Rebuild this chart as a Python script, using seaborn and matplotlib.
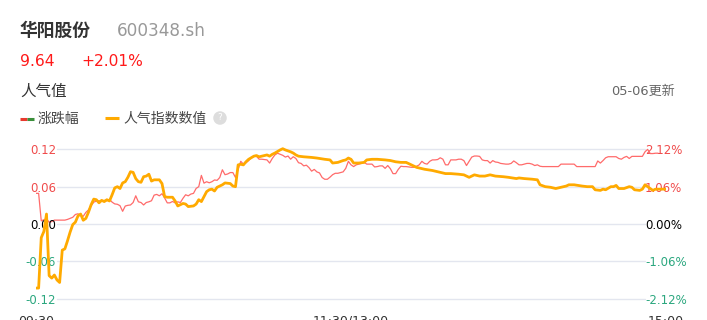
import matplotlib
matplotlib.use("Agg")
import matplotlib.pyplot as plt
import seaborn as sns
from matplotlib.lines import Line2D

# ---------------- data ----------------
stock_name = "华阳股份"
stock_code = "600348.sh"
price_text = "9.64"
change_text = "+2.01%"
section_title = "人气值"
update_label = "05-06更新"
legend_labels = ["涨跌幅", "人气指数数值"]

x_tick_pos = [0, 120, 240]
x_tick_labels = ["09:30", "11:30/13:00", "15:00"]
left_ticks = [-0.12, -0.06, 0.0, 0.06, 0.12]
left_tick_labels = ["-0.12", "-0.06", "0.00", "0.06", "0.12"]
right_ticks = [-2.12, -1.06, 0.0, 1.06, 2.12]
right_tick_labels = ["-2.12%", "-1.06%", "0.00%", "1.06%", "2.12%"]

# popularity index (left axis), minute index of trading day
pop_minute = [0, 1, 2, 3, 4, 5, 6, 7, 8, 9, 10, 11, 12, 13, 14, 15, 16, 17, 18, 19,
              20, 21, 22, 23, 24, 25, 26, 27, 28, 29, 30, 31, 32, 33, 34, 35, 36, 37, 38, 39,
              40, 41, 42, 43, 44, 45, 46, 47, 48, 49, 50, 52, 53, 54, 55, 56, 57, 58, 60, 61,
              62, 63, 64, 65, 66, 67, 68, 69, 71, 72, 74, 75, 76, 77, 78, 79, 80, 81, 83, 84,
              85, 86, 88, 89, 90, 91, 93, 94, 95, 97, 98, 99, 100, 102, 105, 107, 110, 112, 113, 115,
              117, 118, 119, 120, 121, 123, 125, 126, 128, 130, 133, 135, 137, 139, 141, 143, 145, 148, 151, 153,
              156, 158, 161, 163, 165, 166, 167, 169, 171, 173, 175, 178, 180, 183, 184, 186, 189, 191, 192, 194,
              196, 198, 200, 202, 203, 205, 208, 210, 212, 213, 215, 216, 217, 219, 220, 221, 222, 224, 226, 227,
              228, 230, 231, 232, 234, 235, 236, 238, 240]
pop_value = [-0.103, -0.103, -0.022, -0.012, 0.016, -0.083, -0.087, -0.082, -0.090, -0.094,
             -0.042, -0.040, -0.027, -0.013, -0.001, 0.003, 0.013, 0.016, 0.006, 0.009,
             0.019, 0.031, 0.040, 0.039, 0.034, 0.038, 0.036, 0.039, 0.037, 0.047,
             0.058, 0.060, 0.057, 0.066, 0.068, 0.075, 0.084, 0.083, 0.073, 0.068,
             0.067, 0.076, 0.077, 0.080, 0.069, 0.071, 0.071, 0.071, 0.065, 0.044,
             0.043, 0.043, 0.037, 0.029, 0.031, 0.033, 0.032, 0.028, 0.029, 0.032,
             0.039, 0.036, 0.044, 0.052, 0.055, 0.056, 0.053, 0.059, 0.063, 0.066,
             0.065, 0.061, 0.060, 0.095, 0.096, 0.095, 0.100, 0.104, 0.109, 0.110,
             0.108, 0.109, 0.111, 0.109, 0.112, 0.114, 0.119, 0.121, 0.119, 0.116,
             0.114, 0.111, 0.109, 0.108, 0.107, 0.106, 0.104, 0.103, 0.098, 0.099,
             0.102, 0.103, 0.106, 0.104, 0.098, 0.098, 0.099, 0.103, 0.104, 0.104,
             0.103, 0.102, 0.100, 0.099, 0.099, 0.095, 0.091, 0.088, 0.086, 0.084,
             0.081, 0.081, 0.080, 0.079, 0.075, 0.077, 0.079, 0.077, 0.077, 0.079,
             0.077, 0.076, 0.075, 0.073, 0.074, 0.073, 0.072, 0.071, 0.063, 0.060,
             0.059, 0.057, 0.059, 0.061, 0.063, 0.063, 0.061, 0.060, 0.060, 0.055,
             0.054, 0.056, 0.055, 0.060, 0.060, 0.062, 0.057, 0.057, 0.060, 0.059,
             0.055, 0.054, 0.056, 0.063, 0.057, 0.054, 0.056, 0.056, 0.056]

# price change in % (right axis), one value per trading minute
chg_pct = [0.87, 0.87, 0.09, 0.12, 0.15, 0.05, 0.07, 0.11, 0.11, 0.11,
           0.11, 0.11, 0.13, 0.16, 0.19, 0.27, 0.29, 0.24, 0.22, 0.33,
           0.40, 0.52, 0.62, 0.65, 0.66, 0.64, 0.67, 0.66, 0.70, 0.62,
           0.57, 0.56, 0.52, 0.36, 0.51, 0.53, 0.54, 0.61, 0.80, 0.63,
           0.61, 0.54, 0.61, 0.63, 0.66, 0.82, 0.84, 0.80, 0.86, 0.74,
           0.60, 0.60, 0.64, 0.60, 0.63, 0.61, 0.73, 0.83, 0.80, 0.85,
           0.87, 1.01, 1.06, 1.38, 1.16, 1.20, 1.17, 1.20, 1.25, 1.24,
           1.32, 1.54, 1.40, 1.42, 1.46, 1.46, 1.32, 1.55, 1.78, 1.70,
           1.74, 1.80, 1.88, 1.93, 1.92, 1.84, 1.84, 1.83, 1.82, 1.73,
           1.86, 1.96, 2.01, 1.98, 1.95, 1.90, 1.93, 1.84, 1.91, 1.86,
           1.74, 1.72, 1.65, 1.67, 1.60, 1.50, 1.55, 1.48, 1.45, 1.32,
           1.27, 1.27, 1.33, 1.40, 1.44, 1.44, 1.46, 1.48, 1.58, 1.78,
           1.68, 1.63, 1.68, 1.70, 1.72, 1.75, 1.70, 1.70, 1.70, 1.62,
           1.63, 1.65, 1.65, 1.58, 1.66, 1.57, 1.43, 1.43, 1.55, 1.64,
           1.63, 1.63, 1.62, 1.61, 1.61, 1.64, 1.68, 1.78, 1.72, 1.70,
           1.78, 1.82, 1.82, 1.83, 1.88, 1.84, 1.68, 1.68, 1.82, 1.82,
           1.82, 1.84, 1.84, 1.80, 1.66, 1.78, 1.90, 1.93, 1.93, 1.92,
           1.82, 1.80, 1.80, 1.73, 1.80, 1.76, 1.75, 1.72, 1.71, 1.70,
           1.70, 1.72, 1.79, 1.74, 1.68, 1.68, 1.70, 1.72, 1.72, 1.70,
           1.66, 1.68, 1.64, 1.63, 1.63, 1.63, 1.63, 1.63, 1.63, 1.63,
           1.70, 1.70, 1.70, 1.70, 1.70, 1.70, 1.63, 1.63, 1.63, 1.63,
           1.63, 1.63, 1.63, 1.63, 1.79, 1.73, 1.80, 1.88, 1.91, 1.91,
           1.91, 1.91, 1.86, 1.84, 1.89, 1.92, 1.86, 1.92, 1.92, 1.92,
           1.92, 1.92, 2.05, 2.12, 2.00, 2.00, 2.01, 2.01]
chg_minute = list(range(len(chg_pct)))

# ---------------- style ----------------
sns.set_style("white")
plt.rcParams['font.family'] = ['DejaVu Sans', 'Noto Sans CJK SC']

RED = "#ff6b6b"
ORANGE = "#ffaa00"
TICK_RED = "#f04b4b"
TICK_GREEN = "#2ba77f"
GRID = "#e3e6ef"

W, H = 707, 320
fig = plt.figure(figsize=(W / 100, H / 100), dpi=100)
fig.patch.set_facecolor("white")


def fx(x):
    return x / W


def fy(y):
    return 1 - y / H


X0, X1, YT, YB = 36, 666, 140, 305
ax = fig.add_axes([fx(X0), fy(YB), (X1 - X0) / W, (YB - YT) / H])
ax2 = ax.twinx()

ylo, yhi = -0.1302, 0.135
ratio = 1.06 / 0.06
ax.set_xlim(0, 240)
ax.set_ylim(ylo, yhi)
ax2.set_ylim(ylo * ratio, yhi * ratio)

# grid lines (on the lower axes)
for v in right_ticks:
    ax2.axhline(v, xmin=(57 - X0) / (X1 - X0), xmax=(645 - X0) / (X1 - X0),
                color=GRID, lw=1, zorder=0)

sns.lineplot(x=chg_minute, y=chg_pct, ax=ax2, color=RED, linewidth=0.9)
sns.lineplot(x=pop_minute, y=pop_value, ax=ax, color=ORANGE, linewidth=2.0)

ax.set_zorder(ax2.get_zorder() + 1)
ax.patch.set_visible(False)

for a in (ax, ax2):
    for s in a.spines.values():
        s.set_visible(False)
    a.set_xlabel("")
    a.set_ylabel("")

ax.set_yticks(left_ticks)
ax.set_yticklabels(left_tick_labels)
ax.tick_params(axis='y', length=0, pad=-14.4, labelsize=8.5)
ax2.set_yticks(right_ticks)
ax2.set_yticklabels(right_tick_labels)
ax2.tick_params(axis='y', length=0, pad=-15.1, labelsize=8.5)


def tick_color(v):
    if v > 0:
        return TICK_RED
    if v < 0:
        return TICK_GREEN
    return "black"


for lab, v in zip(ax.get_yticklabels(), left_ticks):
    lab.set_color(tick_color(v))
for lab, v in zip(ax2.get_yticklabels(), right_ticks):
    lab.set_color(tick_color(v))

ax.set_xticks(x_tick_pos)
ax.set_xticklabels(x_tick_labels)
ax.tick_params(axis='x', length=0, pad=7, labelsize=9, labelcolor="#333333")

# ---------------- header texts ----------------
fig.text(fx(20), fy(31), stock_name, fontsize=12.8, color="#333333", va='center', ha='left',
         weight='bold')
fig.text(fx(117), fy(31), stock_code, fontsize=12.2, color="#999999", va='center', ha='left')
fig.text(fx(20), fy(62), price_text, fontsize=11.2, color="#ff1a1a", va='center', ha='left')
fig.text(fx(81), fy(62), change_text, fontsize=11.2, color="#ff1a1a", va='center', ha='left')
fig.text(fx(20), fy(91), section_title, fontsize=11.2, color="#333333", va='center', ha='left')
fig.text(fx(675), fy(91), update_label, fontsize=9.4, color="#666666", va='center', ha='right')

# legend
fig.add_artist(Line2D([fx(20), fx(27)], [fy(119), fy(119)], color="#e8392e", lw=2.2,
                      solid_capstyle='butt'))
fig.add_artist(Line2D([fx(27), fx(34)], [fy(119), fy(119)], color="#3a8f3a", lw=2.2,
                      solid_capstyle='butt'))
fig.text(fx(38), fy(119), legend_labels[0], fontsize=10, color="#444444", va='center', ha='left')
fig.add_artist(Line2D([fx(105), fx(119)], [fy(118), fy(118)], color=ORANGE, lw=2.2,
                      solid_capstyle='butt'))
fig.text(fx(123), fy(119), legend_labels[1], fontsize=10, color="#444444", va='center', ha='left')
fig.text(fx(220), fy(118), "?", fontsize=6.5, color="white", va='center', ha='center',
         bbox=dict(boxstyle='circle,pad=0.25', fc='#dddddd', ec='none'))

fig.savefig("out.png", dpi=100)
